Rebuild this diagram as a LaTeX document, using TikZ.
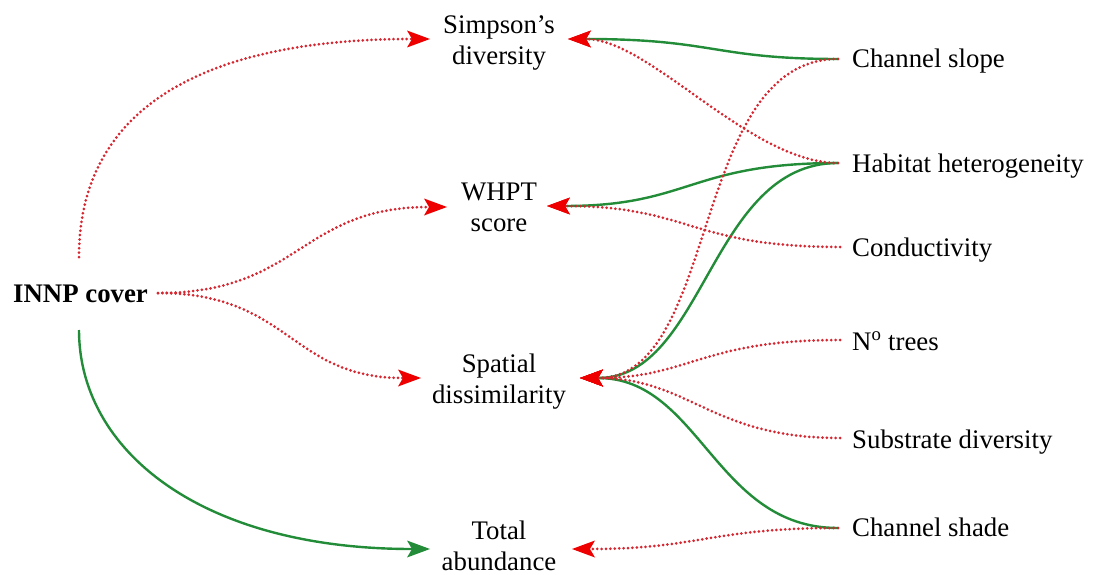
\documentclass[tikz,border=0pt]{standalone}
\usepackage{fontspec}
\setmainfont{Liberation Serif}
\usetikzlibrary{arrows.meta}

\definecolor{dotred}{RGB}{214,38,48}
\definecolor{tipred}{RGB}{238,0,0}
\definecolor{pathgreen}{RGB}{34,140,56}

\tikzset{
  lbl/.style={inner sep=0pt, font=\fontsize{26.8}{31}\selectfont},
  response/.style={lbl, align=center, anchor=north},
  driver/.style={lbl, anchor=base west},
  redtip/.style={-{Stealth[length=23pt,width=17pt,inset=5pt,color=tipred,line width=0pt]}},
  negpath/.style={draw=dotred, line width=3pt, line cap=round,
    dash pattern=on 0pt off 4.4pt, redtip},
  pospath/.style={draw=pathgreen, line width=2.4pt, redtip},
  posgreen/.style={draw=pathgreen, line width=2.4pt,
    -{Stealth[length=23pt,width=17pt,inset=5pt,color=pathgreen,line width=0pt]}},
}

\begin{document}
\begin{tikzpicture}[x=1pt,y=-1pt]
\useasboundingbox (0,0) rectangle (1094,575);

% response variables
\node[response] (simp) at (499,15) {Simpson’s\\diversity};
\node[response] (whpt) at (499,183) {WHPT\\score};
\node[response] (spat) at (499,354) {Spatial\\dissimilarity};
\node[response] (tot)  at (499,521) {Total\\abundance};

% predictor
\node[lbl, anchor=base west, font=\fontsize{26.8}{31}\selectfont\bfseries] (innp) at (13,302) {INNP cover};

% environmental drivers
\node[driver] (slopeL)  at (852,68)  {Channel slope};
\node[driver] (habL)    at (852,172) {Habitat heterogeneity};
\node[driver] (condL)   at (852,256) {Conductivity};
\node[driver] (treesL)  at (852,350) {N\textsuperscript{o} trees};
\node[driver] (substrL) at (852,448) {Substrate diversity};
\node[driver] (shadeL)  at (852,536) {Channel shade};

% connector end points
\coordinate (innpUp)    at (79,257);
\coordinate (innpRight) at (158,293);
\coordinate (innpDown)  at (79,330);
\coordinate (simpL) at (430,39);
\coordinate (simpR) at (568,39);
\coordinate (whptL) at (447,207);
\coordinate (whptR) at (547,206);
\coordinate (spatL) at (421,378);
\coordinate (spatR) at (580,378);
\coordinate (totL)  at (430,549);
\coordinate (totR)  at (572,549);
\coordinate (slope)  at (838,59);
\coordinate (hab)    at (838,163);
\coordinate (cond)   at (840,247);
\coordinate (trees)  at (840,340);
\coordinate (substr) at (840,438);
\coordinate (shade)  at (838,528);

% positive paths
\draw[posgreen] (innpDown) .. controls (79,450) and (200,549) .. (totL);
\draw[pospath] (slope) .. controls (714,59) and (714,39) .. (simpR);
\draw[pospath] (hab) .. controls (690,163) and (690,206) .. (whptR);
\draw[pospath] (hab) .. controls (710,163) and (705,378) .. (spatR);
\draw[pospath] (shade) .. controls (715,528) and (700,378) .. (spatR);

% negative paths
\draw[negpath] (innpUp) .. controls (79,110) and (200,39) .. (simpL);
\draw[negpath] (innpRight) .. controls (300,293) and (300,207) .. (whptL);
\draw[negpath] (innpRight) .. controls (290,293) and (290,378) .. (spatL);
\draw[negpath] (hab) .. controls (750,163) and (650,39) .. (simpR);
\draw[negpath] (cond) .. controls (690,247) and (690,206) .. (whptR);
\draw[negpath] (slope) .. controls (690,59) and (720,378) .. (spatR);
\draw[negpath] (trees) .. controls (700,340) and (690,378) .. (spatR);
\draw[negpath] (substr) .. controls (710,438) and (690,378) .. (spatR);
\draw[negpath] (shade) .. controls (710,528) and (700,549) .. (totR);
\end{tikzpicture}
\end{document}
